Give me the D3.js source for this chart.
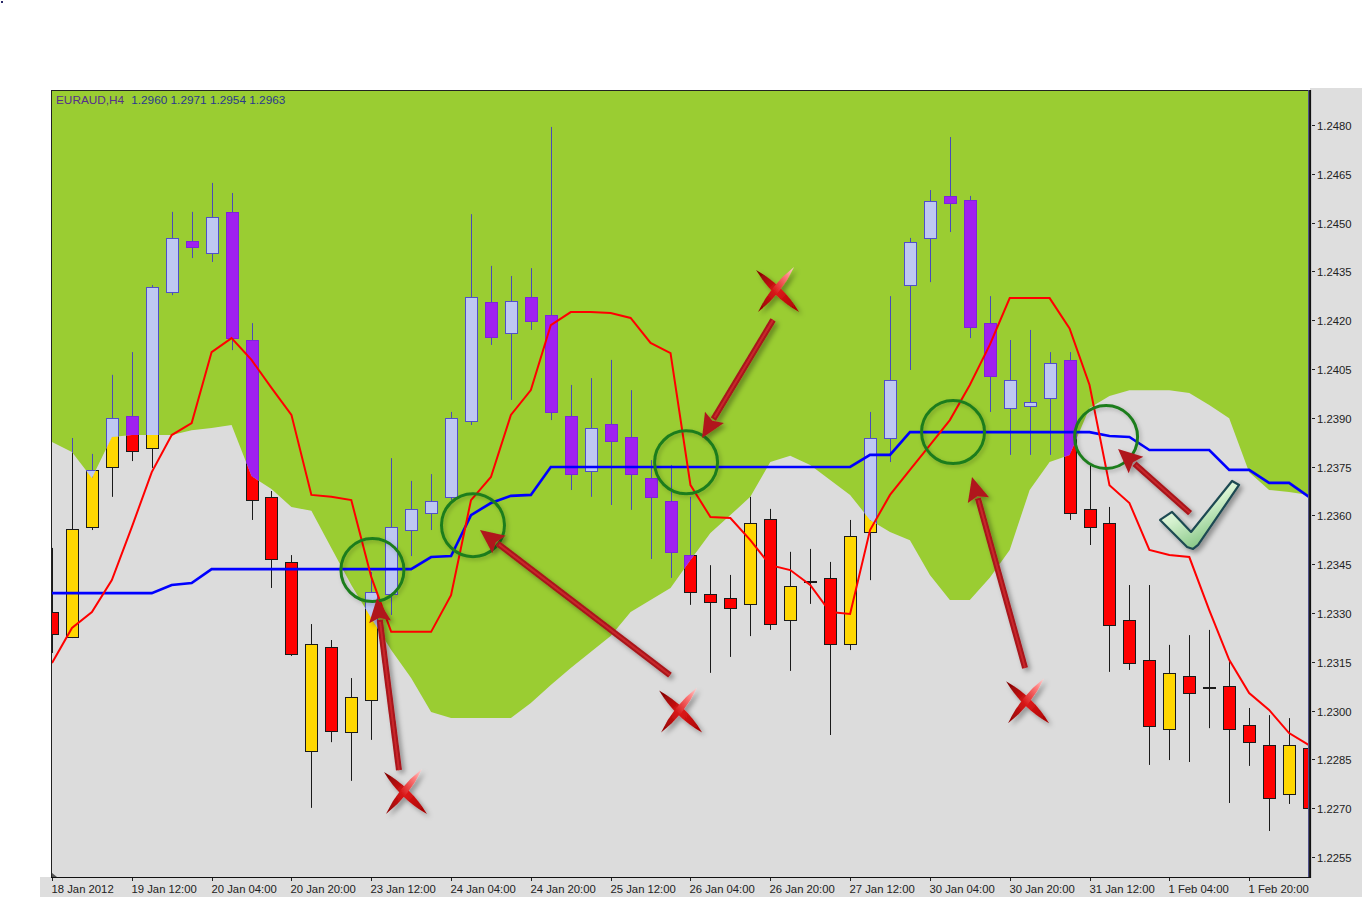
<!DOCTYPE html>
<html><head><meta charset="utf-8">
<script src="https://cdn.jsdelivr.net/npm/d3@7"></script>
<style>body{margin:0;background:#fff;} svg{display:block;}</style>
</head><body>
<svg id="c" width="1362" height="897"></svg>
<script>
// ---------- DATA ----------
const dateLabels = ["18 Jan 2012","19 Jan 12:00","20 Jan 04:00","20 Jan 20:00","23 Jan 12:00","24 Jan 04:00","24 Jan 20:00","25 Jan 12:00","26 Jan 04:00","26 Jan 20:00","27 Jan 12:00","30 Jan 04:00","30 Jan 20:00","31 Jan 12:00","1 Feb 04:00","1 Feb 20:00"];
const labelEvery = 4;
const yTicks = [1.2480,1.2465,1.2450,1.2435,1.2420,1.2405,1.2390,1.2375,1.2360,1.2345,1.2330,1.2315,1.2300,1.2285,1.2270,1.2255];
const symbolText = "EURAUD,H4";
const quoteText = "1.2960 1.2971 1.2954 1.2963";

const open = [1.23303,1.23226,1.23564,1.23749,1.23906,1.23807,1.24287,1.24443,1.24407,1.24533,
1.24139,1.23657,1.23457,1.22876,1.23195,1.22934,1.23033,1.23358,1.23555,1.23607,
1.23657,1.23890,1.24256,1.24161,1.24271,1.24216,1.23906,1.23737,1.23881,1.23841,
1.23715,1.23644,1.23478,1.23358,1.23346,1.23328,1.23589,1.23278,1.23398,1.23408,
1.23205,1.23549,1.23838,1.24308,1.24453,1.24582,1.24569,1.24191,1.23930,1.23936,
1.23961,1.24078,1.23620,1.23577,1.23278,1.23156,1.22943,1.23106,1.23073,1.23076,
1.22956,1.22894,1.22744,1.22885];
const high = [1.23500,1.23838,1.23789,1.24032,1.24102,1.24308,1.24533,1.24533,1.24622,1.24591,
1.24191,1.23675,1.23478,1.23266,1.23217,1.23100,1.23426,1.23776,1.23706,1.23727,
1.23918,1.24526,1.24367,1.24336,1.24360,1.24794,1.24001,1.24022,1.24078,1.23985,
1.23770,1.23755,1.23657,1.23447,1.23417,1.23657,1.23620,1.23488,1.23497,1.23457,
1.23586,1.23918,1.24274,1.24453,1.24600,1.24763,1.24582,1.24274,1.24139,1.24170,
1.24102,1.24102,1.23755,1.23626,1.23386,1.23386,1.23202,1.23232,1.23248,1.23156,
1.23008,1.22986,1.22977,1.22900];
const low = [1.23177,1.23223,1.23555,1.23657,1.23767,1.23746,1.24277,1.24391,1.24379,1.24108,
1.23586,1.23377,1.23168,1.22701,1.22903,1.22784,1.22910,1.23294,1.23475,1.23555,
1.23647,1.23878,1.24124,1.23955,1.24170,1.23893,1.23678,1.23657,1.23632,1.23617,
1.23466,1.23408,1.23325,1.23116,1.23165,1.23229,1.23248,1.23122,1.23328,1.22925,
1.23186,1.23401,1.23764,1.24047,1.24317,1.24471,1.24145,1.23918,1.23786,1.23786,
1.23786,1.23586,1.23509,1.23119,1.23125,1.22833,1.22848,1.22842,1.22946,1.22716,
1.22830,1.22630,1.22713,1.22550];
const close = [1.23235,1.23558,1.23740,1.23899,1.23798,1.24302,1.24453,1.24425,1.24517,1.24145,
1.23647,1.23466,1.23174,1.23205,1.22937,1.23042,1.23365,1.23564,1.23620,1.23644,
1.23899,1.24271,1.24148,1.24259,1.24198,1.23918,1.23727,1.23869,1.23829,1.23727,
1.23657,1.23488,1.23365,1.23334,1.23315,1.23577,1.23266,1.23383,1.23395,1.23205,
1.23537,1.23838,1.24016,1.24440,1.24566,1.24560,1.24179,1.24028,1.24016,1.23949,
1.24068,1.23607,1.23564,1.23263,1.23146,1.22953,1.23116,1.23054,1.23070,1.22943,
1.22903,1.22731,1.22894,1.22701];

// red line (Tenkan-sen)
const tenkan = [1.23146,1.23254,1.23303,1.23401,1.23564,1.23733,1.23847,1.23884,1.24102,1.24145,
1.24078,1.23992,1.23909,1.23663,1.23657,1.23647,1.23411,1.23242,1.23242,1.23242,
1.23355,1.23647,1.23718,1.23909,1.23985,1.24185,1.24225,1.24225,1.24222,1.24207,
1.24130,1.24099,1.23693,1.23595,1.23592,1.23524,1.23447,1.23432,1.23386,1.23303,
1.23297,1.23555,1.23663,1.23740,1.23816,1.23893,1.24001,1.24124,1.24268,1.24268,
1.24268,1.24175,1.24001,1.23693,1.23638,1.23494,1.23478,1.23472,1.23309,1.23156,
1.23054,1.23002,1.22931,1.22894];
// blue line (Kijun-sen)
const kijun = [1.23361,1.23361,1.23361,1.23361,1.23361,1.23361,1.23386,1.23392,1.23435,1.23435,
1.23435,1.23435,1.23435,1.23435,1.23435,1.23435,1.23435,1.23435,1.23435,1.23472,
1.23475,1.23601,1.23638,1.23660,1.23663,1.23749,1.23749,1.23749,1.23749,1.23749,
1.23749,1.23749,1.23749,1.23749,1.23749,1.23749,1.23749,1.23749,1.23749,1.23749,
1.23749,1.23786,1.23786,1.23856,1.23856,1.23856,1.23856,1.23856,1.23856,1.23856,
1.23856,1.23856,1.23856,1.23844,1.23841,1.23801,1.23801,1.23801,1.23801,1.23740,
1.23740,1.23700,1.23700,1.23657];
// upper edge of the grey cloud
const kumoEdge = [1.23826,1.23795,1.23715,1.23841,1.23847,1.23847,1.23847,1.23862,1.23869,1.23878,
1.23721,1.23681,1.23626,1.23614,1.23500,1.23386,1.23285,1.23186,1.23100,1.22996,
1.22977,1.22977,1.22977,1.22977,1.23023,1.23079,1.23131,1.23180,1.23229,1.23303,
1.23340,1.23377,1.23463,1.23546,1.23601,1.23657,1.23764,1.23783,1.23755,1.23709,
1.23663,1.23586,1.23549,1.23524,1.23417,1.23340,1.23340,1.23408,1.23494,1.23678,
1.23764,1.23786,1.23930,1.23967,1.23985,1.23985,1.23985,1.23976,1.23939,1.23899,
1.23733,1.23678,1.23672,1.23663];

// annotations (bar index, price)
const circles = [{k:16.06,p:1.23432},{k:21.1,p:1.23570},{k:31.78,p:1.23763},{k:45.16,p:1.23856},{k:52.83,p:1.23841}];
const arrows = [
  {k0:17.39,p0:1.22817,k1:16.29,p1:1.23346},
  {k0:30.97,p0:1.23109,k1:21.45,p1:1.23555},
  {k0:36.14,p0:1.24201,k1:32.58,p1:1.23838},
  {k0:48.77,p0:1.23131,k1:46.11,p1:1.23718},
  {k0:57.04,p0:1.23607,k1:53.43,p1:1.23804}];
const crosses = [{k:17.69,p:1.22747},{k:31.48,p:1.22997},{k:36.34,p:1.24290},{k:48.87,p:1.23026}];
const checks = [{k:57.19,p:1.23503}];

// ---------- LAYOUT ----------
const L = 51, R = 1310, T = 90, B = 877;
const svg = d3.select("#c");
const n = open.length;
const x = d3.scaleLinear().domain([0, n-1]).range([52, 1309]);
const y = d3.scaleLinear().domain([1.2255, 1.2480]).range([857, 125]);
const font = "'Liberation Sans', Arial, sans-serif";

const defs = svg.append("defs");
defs.append("clipPath").attr("id","plot").append("rect").attr("x",L).attr("y",T).attr("width",R-L).attr("height",B-T);
const edgePts = [{k:-0.6,v:kumoEdge[0]}].concat(kumoEdge.map((v,k)=>({k,v}))).concat([{k:n-0.4,v:kumoEdge[n-1]}]);
const greenArea = d3.area().x(d=>x(d.k)).y0(T-2).y1(d=>y(d.v));
const grayArea = d3.area().x(d=>x(d.k)).y0(B+2).y1(d=>y(d.v));
defs.append("clipPath").attr("id","greenClip").append("path").attr("d", greenArea(edgePts));
defs.append("clipPath").attr("id","grayClip").append("path").attr("d", grayArea(edgePts));
const sh = defs.append("filter").attr("id","sh").attr("x","-50%").attr("y","-50%").attr("width","200%").attr("height","200%");
sh.append("feDropShadow").attr("dx",3).attr("dy",3).attr("stdDeviation",2.5).attr("flood-color","#000").attr("flood-opacity",0.35);
const shs = defs.append("filter").attr("id","shs").attr("x","-50%").attr("y","-50%").attr("width","200%").attr("height","200%");
shs.append("feDropShadow").attr("dx",2).attr("dy",2).attr("stdDeviation",2).attr("flood-color","#000").attr("flood-opacity",0.22);
function grad(id, x1,y1,x2,y2, stops){
  const g = defs.append("linearGradient").attr("id",id).attr("x1",x1).attr("y1",y1).attr("x2",x2).attr("y2",y2);
  stops.forEach(s=>g.append("stop").attr("offset",s[0]).attr("stop-color",s[1]));
}
grad("xA",0,0,1,1,[[0,"#7a0000"],[0.5,"#e01818"],[1,"#a00000"]]);
grad("xB",0,1,1,0,[[0,"#8a0000"],[0.45,"#d81818"],[0.8,"#ff8080"],[1,"#ffd8d8"]]);
grad("chk",0,0,0.6,1,[[0,"#ffffff"],[0.5,"#d6f2d0"],[1,"#79bf79"]]);

// ---------- BACKGROUNDS ----------
svg.append("rect").attr("x",R).attr("y",88).attr("width",1362-R).attr("height",897-88).attr("fill","#dedede");
svg.append("rect").attr("x",40).attr("y",B).attr("width",1362-40).attr("height",897-B).attr("fill","#dedede");
svg.append("rect").attr("x",1).attr("y",1).attr("width",2).attr("height",2).attr("fill","#2a2a6a");

const plot = svg.append("g").attr("clip-path","url(#plot)");
plot.append("rect").attr("x",L).attr("y",T).attr("width",R-L).attr("height",B-T).attr("fill","#9acd32");
plot.append("path").attr("d", grayArea(edgePts)).attr("fill","#dcdcdc");

// ---------- CANDLES ----------
function drawCandles(g, pal){
  const idx = d3.range(n);
  g.selectAll("line.w").data(idx).join("line")
    .attr("x1",k=>Math.round(x(k))+0.5).attr("x2",k=>Math.round(x(k))+0.5)
    .attr("y1",k=>y(high[k])).attr("y2",k=>y(low[k]))
    .attr("stroke",pal.wick).attr("stroke-width",1);
  g.selectAll("rect.b").data(idx).join("rect")
    .attr("x",k=>Math.round(x(k))-5.5).attr("width",12)
    .attr("y",k=>Math.round(y(Math.max(open[k],close[k])))+0.5)
    .attr("height",k=>Math.max(1, Math.round(Math.abs(y(open[k])-y(close[k])))))
    .attr("fill",k=>close[k]>=open[k]?pal.bull:pal.bear)
    .attr("stroke",k=>close[k]>=open[k]?pal.bullStroke:pal.bearStroke).attr("stroke-width",1);
}
drawCandles(plot.append("g").attr("clip-path","url(#grayClip)"),
  {wick:"#1a1a1a", bull:"#ffd700", bear:"#ff0000", bullStroke:"#1a1a1a", bearStroke:"#1a1a1a"});
drawCandles(plot.append("g").attr("clip-path","url(#greenClip)"),
  {wick:"#4a4ab8", bull:"#bec8f2", bear:"#a020f0", bullStroke:"#5050c8", bearStroke:"#7a28d8"});

// ---------- LINES ----------
const line = d3.line().x((d,i)=>x(i)).y(d=>y(d));
plot.append("path").attr("d",line(kijun)).attr("fill","none").attr("stroke","#0000ff").attr("stroke-width",2.6);
plot.append("path").attr("d",line(tenkan)).attr("fill","none").attr("stroke","#ff0000").attr("stroke-width",2);

// ---------- AXES ----------
svg.append("rect").attr("x",L+0.5).attr("y",T+0.5).attr("width",R-L-1).attr("height",B-T).attr("fill","none").attr("stroke","#222").attr("stroke-width",1);
svg.append("line").attr("x1",R-1.5).attr("x2",R-1.5).attr("y1",T).attr("y2",B).attr("stroke","#50508a").attr("stroke-width",1);
svg.append("line").attr("x1",R+0.5).attr("x2",R+0.5).attr("y1",T).attr("y2",B+1).attr("stroke","#111").attr("stroke-width",1.2);
svg.append("line").attr("x1",L).attr("x2",R+1).attr("y1",B+0.5).attr("y2",B+0.5).attr("stroke","#111").attr("stroke-width",1.2);
svg.append("path").attr("d",`M${L+1},${B-4} L${L+6},${B} L${L+1},${B} Z`).attr("fill","#555");

const yAxis = svg.append("g");
yTicks.forEach(v=>{
  const yy = Math.round(y(v))+0.5;
  yAxis.append("line").attr("x1",R+2).attr("x2",R+5).attr("y1",yy).attr("y2",yy).attr("stroke","#222");
  yAxis.append("text").attr("x",R+7).attr("y",yy+4).attr("font-family",font).attr("font-size",11.3).attr("fill","#222").text(v.toFixed(4));
});
const xAxis = svg.append("g");
dateLabels.forEach((lab,i)=>{
  const xx = Math.round(x(i*labelEvery))+0.5;
  xAxis.append("line").attr("x1",xx).attr("x2",xx).attr("y1",B+1).attr("y2",B+4).attr("stroke","#222");
  xAxis.append("text").attr("x",xx-1).attr("y",B+16).attr("font-family",font).attr("font-size",11.3).attr("fill","#222").text(lab);
});

// header
const hdr = svg.append("text").attr("x",56).attr("y",104).attr("font-family",font).attr("font-size",11.8);
hdr.append("tspan").attr("fill","#55308a").text(symbolText);
hdr.append("tspan").attr("fill","#2a3a8c").attr("dx",7).text(quoteText);

// ---------- ANNOTATIONS ----------
const ann = svg.append("g");
circles.forEach(c=>{
  ann.append("circle").attr("cx",x(c.k)).attr("cy",y(c.p)).attr("r",31.5)
    .attr("fill","none").attr("stroke","#1e7d1e").attr("stroke-width",3).attr("filter","url(#shs)");
});
arrows.forEach(a=>{
  const x0=x(a.k0), y0=y(a.p0), x1=x(a.k1), y1=y(a.p1);
  const dx=x1-x0, dy=y1-y0, len=Math.hypot(dx,dy), ux=dx/len, uy=dy/len;
  const hl=24, hw=11;
  const bx=x1-ux*hl, by=y1-uy*hl;
  const g = ann.append("g").attr("filter","url(#sh)");
  g.append("line").attr("x1",x0).attr("y1",y0).attr("x2",bx+ux*2).attr("y2",by+uy*2).attr("stroke","#a8141a").attr("stroke-width",6);
  g.append("line").attr("x1",x0).attr("y1",y0).attr("x2",bx).attr("y2",by).attr("stroke","#c8282c").attr("stroke-width",2);
  g.append("path").attr("d",`M${x1},${y1} L${bx-uy*hw},${by+ux*hw} L${bx+ux*4},${by+uy*4} L${bx+uy*hw},${by-ux*hw} Z`).attr("fill","#b0161c");
});
function lens(x1,y1,x2,y2,w){
  const mx=(x1+x2)/2, my=(y1+y2)/2, dx=x2-x1, dy=y2-y1, l=Math.hypot(dx,dy), nx=-dy/l*w, ny=dx/l*w;
  return `M${x1},${y1} Q${mx+nx},${my+ny} ${x2},${y2} Q${mx-nx},${my-ny} ${x1},${y1} Z`;
}
crosses.forEach(c=>{
  const cx=x(c.k), cy=y(c.p);
  const g = ann.append("g").attr("filter","url(#sh)");
  g.append("path").attr("d",lens(cx-21,cy-21,cx+22,cy+21,8)).attr("fill","url(#xA)");
  g.append("path").attr("d",lens(cx-19,cy+21,cx+17,cy-24,7)).attr("fill","url(#xB)");
});
checks.forEach(c=>{
  const ox=x(c.k), oy=y(c.p);
  const pts=[[-33,-27],[-21,-35],[-2,-15],[39,-66],[46,-62],[5,-2],[0,2],[-6,0]];
  ann.append("path").attr("d","M"+pts.map(p=>[ox+p[0],oy+p[1]].join(",")).join(" L")+" Z")
    .attr("fill","url(#chk)").attr("stroke","#1e4a52").attr("stroke-width",2.2).attr("stroke-linejoin","round").attr("filter","url(#sh)");
});
</script>
</body></html>
